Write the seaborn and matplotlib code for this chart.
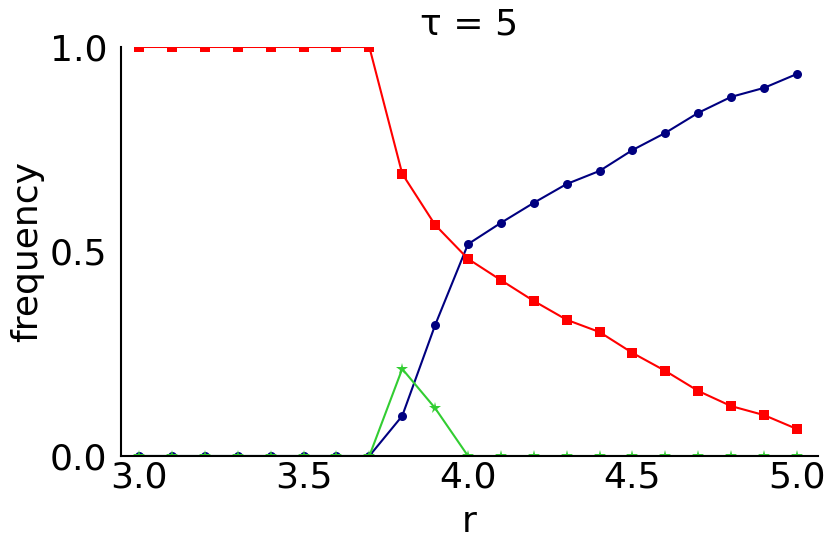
import numpy as np
import pandas as pd
import matplotlib
matplotlib.use("Agg")
import matplotlib.pyplot as plt
import seaborn as sns

r_values = [3.0, 3.1, 3.2, 3.3, 3.4, 3.5, 3.6, 3.7, 3.8, 3.9, 4.0,
            4.1, 4.2, 4.3, 4.4, 4.5, 4.6, 4.7, 4.8, 4.9, 5.0]
red_freq = [1.0, 1.0, 1.0, 1.0, 1.0, 1.0, 1.0, 1.0, 0.69, 0.565, 0.482,
            0.43, 0.379, 0.333, 0.303, 0.252, 0.208, 0.159, 0.122, 0.100, 0.066]
navy_freq = [0.0, 0.0, 0.0, 0.0, 0.0, 0.0, 0.0, 0.0, 0.098, 0.32, 0.518,
             0.57, 0.619, 0.665, 0.697, 0.748, 0.79, 0.839, 0.878, 0.90, 0.934]
green_freq = [0.0, 0.0, 0.0, 0.0, 0.0, 0.0, 0.0, 0.0, 0.213, 0.117, 0.0,
              0.0, 0.0, 0.0, 0.0, 0.0, 0.0, 0.0, 0.0, 0.0, 0.0]
x_ticks = [3.0, 3.5, 4.0, 4.5, 5.0]
y_ticks = [0.0, 0.5, 1.0]

sns.set_style("white")
plt.rcParams['font.family'] = ['DejaVu Sans']
plt.rcParams['text.color'] = 'black'
plt.rcParams['axes.labelcolor'] = 'black'
plt.rcParams['xtick.color'] = 'black'
plt.rcParams['ytick.color'] = 'black'

fig = plt.figure(figsize=(8.3, 5.54), dpi=100)
ax = fig.add_axes([0.1458, 0.1769, 0.8397, 0.7383])

df = pd.DataFrame({"r": r_values, "navy": navy_freq, "red": red_freq, "green": green_freq})

sns.lineplot(data=df, x="r", y="navy", ax=ax, color="navy", marker="o",
             markersize=6.5, markeredgewidth=0, linewidth=1.5)
sns.lineplot(data=df, x="r", y="red", ax=ax, color="red", marker="s",
             markersize=6.5, markeredgewidth=0, linewidth=1.5)
sns.lineplot(data=df, x="r", y="green", ax=ax, color="limegreen", marker="*",
             markersize=8.5, markeredgewidth=0, linewidth=1.5)

ax.set_xlim(2.945, 5.064)
ax.set_ylim(0, 1)
ax.set_xticks(x_ticks)
ax.set_yticks(y_ticks)
ax.set_xticklabels([f"{v:.1f}" for v in x_ticks])
ax.set_yticklabels([f"{v:.1f}" for v in y_ticks])
ax.tick_params(axis='both', direction='in', length=4, width=1, labelsize=26, pad=10,
               colors='black')
ax.tick_params(axis='x', length=0, pad=3)
ax.set_xlabel("r", fontsize=26, labelpad=8, color='black')
ax.set_ylabel("frequency", fontsize=26, labelpad=4, color='black')
ax.set_title("τ = 5", fontsize=26, pad=9, color='black')

for s in ["top", "right"]:
    ax.spines[s].set_visible(False)
for s in ["left", "bottom"]:
    ax.spines[s].set_color("black")
    ax.spines[s].set_linewidth(1.5)

fig.savefig("out.png", dpi=100)
